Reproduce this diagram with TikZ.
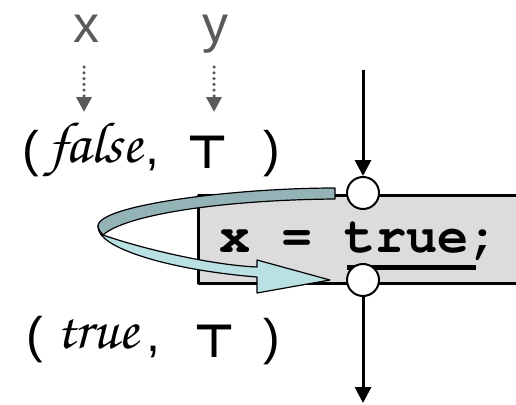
\documentclass[tikz,border=0pt]{standalone}
\usepackage{amsmath,amssymb}
\usepackage[T1]{fontenc}
\usepackage{fontspec}
\usepackage{tikz}
\usetikzlibrary{arrows.meta}

\newfontfamily\sansf{Liberation Sans}
\newfontfamily\symf{DejaVu Sans}
\newcommand\handf{\fontencoding{T1}\fontfamily{pzc}\fontseries{mb}\fontshape{it}\selectfont}
\newcommand\codef{\fontencoding{T1}\fontfamily{pcr}\fontseries{b}\fontshape{n}\selectfont}

\definecolor{labgray}{HTML}{5A5A5A}
\definecolor{boxgray}{HTML}{DCDCDC}
\definecolor{bandback}{HTML}{94B3B6}
\definecolor{bandfront}{HTML}{B9E0E3}

\begin{document}
\begin{tikzpicture}[x=1pt, y=-1pt, line join=round,
      vname/.style={font=\sansf\fontsize{52}{60}\selectfont, text=labgray,
                  inner sep=0pt, anchor=base},
      punct/.style={font=\sansf\fontsize{50}{60}\selectfont, inner sep=0pt, anchor=base},
      hand/.style={font=\handf\fontsize{58}{66}\selectfont, inner sep=0pt, anchor=base west},
      topsym/.style={font=\symf\bfseries\fontsize{46}{56}\selectfont, inner sep=0pt, anchor=base},
      dotarrow/.style={draw=labgray, line width=3.5pt, line cap=round,
                  dash pattern=on 0pt off 5.8pt, -{Triangle[length=15pt, width=15pt]}},
      flow/.style={line width=3pt, -{Triangle[length=16pt, width=16pt]}},
      port/.style={draw, circle, fill=white, line width=2pt, minimum size=32pt, inner sep=0pt},
      stmtbox/.style={draw, fill=boxgray, line width=3pt, anchor=north west,
                  minimum width=340pt, minimum height=88pt},
      code/.style={font=\codef\fontsize{52}{60}\selectfont, inner sep=0pt,
                  anchor=base west},
      band/.style={draw, line width=1.2pt}]

    \useasboundingbox (0,0) rectangle (516,404);
    \clip (0,0) rectangle (516,404);

    % ---- Variable names and their abstract values ----
    \node[vname] (xname) at (86,42) {x};
    \node[vname] (yname) at (215,42) {y};
    \coordinate (xs) at (84,67);
    \coordinate (xe) at (84,112);
    \coordinate (ys) at (214,67);
    \coordinate (ye) at (214,112);
    \draw[dotarrow] (xs) -- (xe);
    \draw[dotarrow] (ys) -- (ye);

    % before: ( false, T )
    \node[punct] (lpA) at (31,166) {(};
    \node[hand] (valxA) at (48,162) {false};
    \node[punct] (cmA) at (152,164) {,};
    \node[topsym] (valyA) at (208,168) {⊤};
    \node[punct] (rpA) at (272,166) {)};

    % after: ( true, T )
    \node[punct] (lpB) at (35,352) {(};
    \node[hand] (valxB) at (56,348) {true};
    \node[punct] (cmB) at (153,351) {,};
    \node[topsym] (valyB) at (215,357) {⊤};
    \node[punct] (rpB) at (272,354) {)};

    % ---- Statement box ----
    \node[stmtbox] (stmt) at (197,194) {};
    \node[code] (assign) at (219,252) {x = true;};
    \draw[line width=5pt] (347,267) -- (476,267);

    % ---- Twisted ribbon arrow (back face, then front face) ----
    \path[band, fill=bandback] (335,188) .. controls (235,188) and (98,205) .. (98,226)
        .. controls (98,229) and (100,232) .. (103,235)
        .. controls (125,215) and (220,200) .. (335,199) -- cycle;
    \path[band, fill=bandfront] (98,226) .. controls (96,248) and (170,270) .. (257,277)
        -- (257,293) -- (330,280) -- (257,260) -- (257,267)
        .. controls (210,265) and (140,248) .. (103,235)
        .. controls (100,232) and (98,229) .. (98,226) -- cycle;

    % ---- Entry / exit points and control flow ----
    \node[port] (pin) at (363,193) {};
    \node[port] (pout) at (363,280) {};
    \coordinate (fin) at (363,70);
    \coordinate (fout) at (363,403);
    \draw[flow] (fin) -- (pin);
    \draw[flow] (pout) -- (fout);

\end{tikzpicture}
\end{document}
